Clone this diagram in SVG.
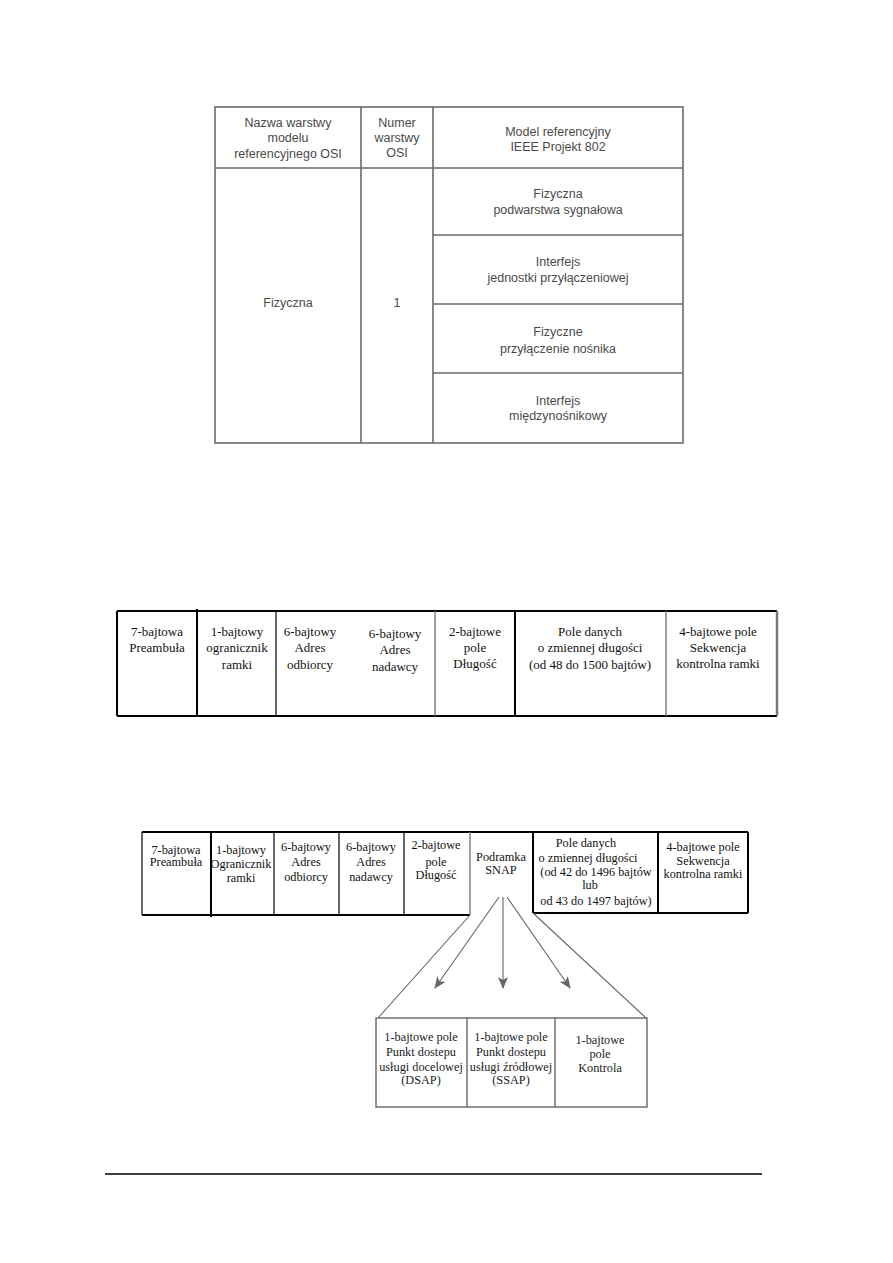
<svg xmlns="http://www.w3.org/2000/svg" width="893" height="1263" viewBox="0 0 893 1263">
<style>
.t1{font-family:"Liberation Sans",Arial,sans-serif;font-size:12.5px;fill:#4a4a4a;text-anchor:middle}
.l1{stroke:#6a6a6a;stroke-width:1.6;fill:none}
.t2{font-family:"Liberation Serif","Times New Roman",serif;font-size:13px;fill:#111;text-anchor:middle}
.t3{font-family:"Liberation Serif","Times New Roman",serif;font-size:12.3px;fill:#111;text-anchor:middle}
.t4{font-family:"Liberation Serif","Times New Roman",serif;font-size:12.3px;fill:#222;text-anchor:middle}
.bk{stroke:#000;stroke-width:2;fill:none}
.bt{stroke:#000;stroke-width:1.2;fill:none}
.gr{stroke:#777;stroke-width:1.4;fill:none}
.sb{stroke:#666;stroke-width:1.4;fill:none}
.cn{stroke:#666;stroke-width:1.1;fill:none}
</style>
<defs>
<marker id="ah" viewBox="0 0 12 10" refX="11" refY="5" markerWidth="12" markerHeight="10" markerUnits="userSpaceOnUse" orient="auto">
<path d="M0,0 L12,5 L0,10 L3,5 Z" fill="#666"/>
</marker>
</defs>
<rect width="893" height="1263" fill="#fff"/>

<!-- Top table -->
<g id="osi-table">
<rect x="215" y="107" width="468" height="336" class="l1"/>
<line x1="215" y1="168" x2="683" y2="168" class="l1"/>
<line x1="361" y1="107" x2="361" y2="443" class="l1"/>
<line x1="433" y1="107" x2="433" y2="443" class="l1"/>
<line x1="433" y1="235" x2="683" y2="235" class="l1"/>
<line x1="433" y1="304" x2="683" y2="304" class="l1"/>
<line x1="433" y1="373" x2="683" y2="373" class="l1"/>
</g>
<g id="hdr-nazwa">
<text class="t1" x="288" y="127">Nazwa warstwy</text>
<text class="t1" x="288" y="142">modelu</text>
<text class="t1" x="288" y="158">referencyjnego OSI</text>
</g>
<g id="hdr-numer">
<text class="t1" x="397" y="127">Numer</text>
<text class="t1" x="397" y="142">warstwy</text>
<text class="t1" x="397" y="157">OSI</text>
</g>
<g id="hdr-model">
<text class="t1" x="558" y="136">Model referencyjny</text>
<text class="t1" x="558" y="151">IEEE Projekt 802</text>
</g>
<g id="cell-fizyczna"><text class="t1" x="288" y="307">Fizyczna</text></g>
<g id="cell-1"><text class="t1" x="397" y="307">1</text></g>
<g id="row-pls">
<text class="t1" x="558" y="198">Fizyczna</text>
<text class="t1" x="558" y="214">podwarstwa sygnałowa</text>
</g>
<g id="row-aui">
<text class="t1" x="558" y="266">Interfejs</text>
<text class="t1" x="558" y="282">jednostki przyłączeniowej</text>
</g>
<g id="row-pma">
<text class="t1" x="558" y="336">Fizyczne</text>
<text class="t1" x="558" y="353">przyłączenie nośnika</text>
</g>
<g id="row-mdi">
<text class="t1" x="558" y="405">Interfejs</text>
<text class="t1" x="558" y="420">międzynośnikowy</text>
</g>

<!-- Middle frame (802.3) -->
<g id="frame1">
<line x1="117" y1="611" x2="777" y2="611" class="bk"/>
<line x1="117" y1="716" x2="777" y2="716" class="bk"/>
<line x1="117" y1="611" x2="117" y2="716" class="bk"/>
<line x1="197" y1="609" x2="197" y2="716" class="bk"/>
<line x1="276" y1="611" x2="276" y2="716" class="bt"/>
<line x1="435" y1="611" x2="435" y2="716" class="gr"/>
<line x1="515" y1="611" x2="515" y2="716" class="bk"/>
<line x1="666" y1="611" x2="666" y2="716" class="gr"/>
<line x1="777" y1="611" x2="777" y2="716" stroke="#777" stroke-width="2.5"/>
</g>
<g id="f1-preamb">
<text class="t2" x="157" y="636">7-bajtowa</text>
<text class="t2" x="157" y="652">Preambuła</text>
</g>
<g id="f1-sfd">
<text class="t2" x="237" y="636">1-bajtowy</text>
<text class="t2" x="237" y="652">ogranicznik</text>
<text class="t2" x="237" y="669">ramki</text>
</g>
<g id="f1-da">
<text class="t2" x="310" y="636">6-bajtowy</text>
<text class="t2" x="310" y="652">Adres</text>
<text class="t2" x="310" y="669">odbiorcy</text>
</g>
<g id="f1-sa">
<text class="t2" x="395" y="638">6-bajtowy</text>
<text class="t2" x="395" y="654">Adres</text>
<text class="t2" x="395" y="671">nadawcy</text>
</g>
<g id="f1-len">
<text class="t2" x="475" y="636">2-bajtowe</text>
<text class="t2" x="475" y="652">pole</text>
<text class="t2" x="475" y="668">Długość</text>
</g>
<g id="f1-data">
<text class="t2" x="590" y="636">Pole danych</text>
<text class="t2" x="590" y="652">o zmiennej długości</text>
<text class="t2" x="590" y="669">(od 48 do 1500 bajtów)</text>
</g>
<g id="f1-fcs">
<text class="t2" x="718" y="636">4-bajtowe pole</text>
<text class="t2" x="718" y="652">Sekwencja</text>
<text class="t2" x="718" y="668">kontrolna ramki</text>
</g>

<!-- Bottom frame (SNAP) -->
<g id="frame2">
<line x1="142" y1="832" x2="748" y2="832" class="bk"/>
<line x1="142" y1="915" x2="470" y2="915" class="bk"/>
<line x1="533" y1="913" x2="748" y2="913" class="bk"/>
<line x1="142" y1="832" x2="142" y2="915" class="bt"/>
<line x1="211" y1="832" x2="211" y2="917" class="bk"/>
<line x1="274" y1="832" x2="274" y2="915" class="bt"/>
<line x1="339" y1="832" x2="339" y2="915" class="bt"/>
<line x1="404" y1="832" x2="404" y2="915" class="bt"/>
<line x1="470" y1="832" x2="470" y2="915" class="gr"/>
<line x1="533" y1="832" x2="533" y2="913" class="bk"/>
<line x1="658" y1="832" x2="658" y2="913" class="bk"/>
<line x1="748" y1="832" x2="748" y2="913" class="bk"/>
</g>
<g id="f2-preamb">
<text class="t3" x="176" y="854">7-bajtowa</text>
<text class="t3" x="176" y="866">Preambuła</text>
</g>
<g id="f2-sfd">
<text class="t3" x="241" y="854">1-bajtowy</text>
<text class="t3" x="241" y="868">Ogranicznik</text>
<text class="t3" x="241" y="882">ramki</text>
</g>
<g id="f2-da">
<text class="t3" x="306" y="851">6-bajtowy</text>
<text class="t3" x="306" y="866">Adres</text>
<text class="t3" x="306" y="881">odbiorcy</text>
</g>
<g id="f2-sa">
<text class="t3" x="371" y="851">6-bajtowy</text>
<text class="t3" x="371" y="866">Adres</text>
<text class="t3" x="371" y="881">nadawcy</text>
</g>
<g id="f2-len">
<text class="t3" x="436" y="849">2-bajtowe</text>
<text class="t3" x="436" y="866">pole</text>
<text class="t3" x="436" y="879">Długość</text>
</g>
<g id="f2-snap">
<text class="t3" x="501" y="861">Podramka</text>
<text class="t3" x="501" y="874">SNAP</text>
</g>
<g id="f2-data">
<text class="t3" x="586" y="847">Pole danych</text>
<text class="t3" x="588" y="862">o zmiennej długości</text>
<text class="t3" x="596" y="876">(od 42 do 1496 bajtów</text>
<text class="t3" x="590" y="889">lub</text>
<text class="t3" x="596" y="905">od 43 do 1497 bajtów)</text>
</g>
<g id="f2-fcs">
<text class="t3" x="703" y="851">4-bajtowe pole</text>
<text class="t3" x="703" y="865">Sekwencja</text>
<text class="t3" x="703" y="878">kontrolna ramki</text>
</g>

<!-- SNAP sub-fields -->
<g id="snap-box">
<rect x="376" y="1018" width="271" height="89" class="sb"/>
<line x1="467" y1="1018" x2="467" y2="1107" class="sb"/>
<line x1="555" y1="1018" x2="555" y2="1107" class="sb"/>
</g>
<g id="dsap">
<text class="t4" x="421" y="1041">1-bajtowe pole</text>
<text class="t4" x="421" y="1056">Punkt dostepu</text>
<text class="t4" x="421" y="1071">usługi docelowej</text>
<text class="t4" x="421" y="1084">(DSAP)</text>
</g>
<g id="ssap">
<text class="t4" x="511" y="1041">1-bajtowe pole</text>
<text class="t4" x="511" y="1056">Punkt dostepu</text>
<text class="t4" x="511" y="1071">usługi źródłowej</text>
<text class="t4" x="511" y="1084">(SSAP)</text>
</g>
<g id="ctrl">
<text class="t4" x="600" y="1044">1-bajtowe</text>
<text class="t4" x="600" y="1058">pole</text>
<text class="t4" x="600" y="1072">Kontrola</text>
</g>

<g id="connectors">
<line x1="470" y1="915" x2="378" y2="1018" class="cn"/>
<line x1="533" y1="913" x2="646" y2="1018" class="cn"/>
<line x1="499" y1="897" x2="435" y2="988" class="cn" marker-end="url(#ah)"/>
<line x1="503" y1="897" x2="503" y2="988" class="cn" marker-end="url(#ah)"/>
<line x1="507" y1="897" x2="570" y2="988" class="cn" marker-end="url(#ah)"/>
</g>

<line x1="105" y1="1174" x2="762" y2="1174" stroke="#000" stroke-width="1.6"/>
</svg>
